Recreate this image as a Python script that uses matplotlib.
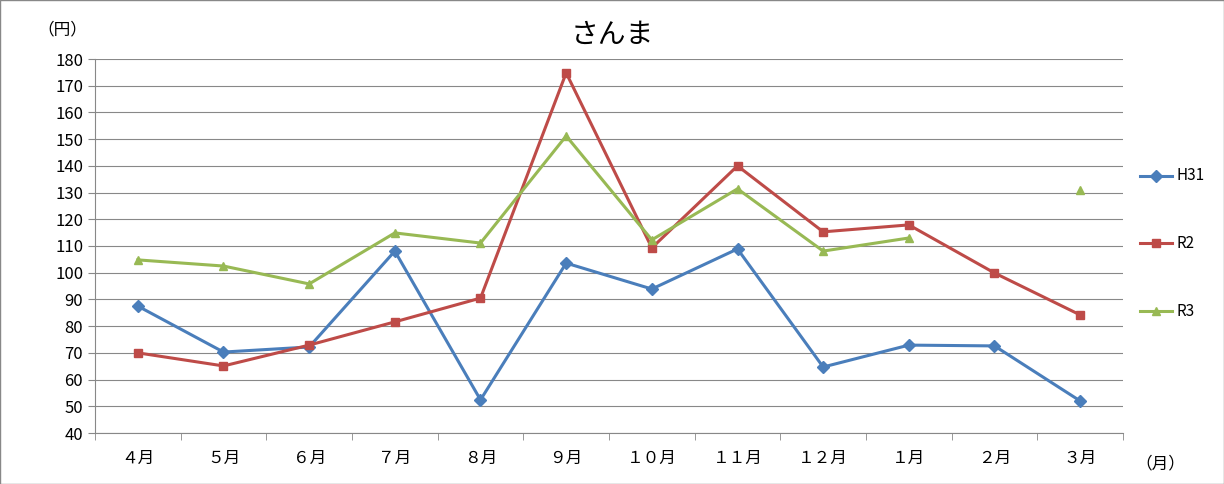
import matplotlib
matplotlib.use("Agg")
import matplotlib.pyplot as plt
import numpy as np

plt.rcParams['font.family'] = ['Noto Sans CJK JP', 'DejaVu Sans']

months = ["４月", "５月", "６月", "７月", "８月", "９月", "１０月", "１１月", "１２月", "１月", "２月", "３月"]
h31 = [87.5, 70.3, 72.2, 108.1, 52.4, 103.6, 93.9, 108.9, 64.7, 72.9, 72.6, 52.0]
r2 = [70.0, 65.1, 72.9, 81.6, 90.5, 174.8, 109.3, 140.0, 115.3, 117.9, 99.9, 84.2]
r3 = [104.8, 102.5, 95.8, 114.9, 111.1, 151.2, 112.3, 131.4, 108.1, 113.0, np.nan, 131.0]

fig = plt.figure(figsize=(12.24, 4.84), dpi=100)
fig.patches.append(plt.Rectangle((0, 0), 1, 1, transform=fig.transFigure, fill=False, edgecolor='#888888', lw=1))
ax = fig.add_axes([95/1224, 1-433/484, (1123-95)/1224, (433-59)/484])
x = np.arange(len(months))
ax.plot(x, h31, color='#4a7ebb', marker='D', ms=6, lw=2.2, label='H31')
ax.plot(x, r2, color='#be4b48', marker='s', ms=6, lw=2.2, label='R2')
ax.plot(x, r3, color='#98b954', marker='^', ms=6, lw=2.2, label='R3')

ax.set_ylim(40, 180)
ax.set_yticks(range(40, 181, 10))
ax.set_xlim(-0.5, 11.5)
ax.set_xticks(x)
ax.set_xticklabels(months, fontsize=12)
ax.set_xticks(np.arange(-0.5, 12, 1), minor=True)
ax.tick_params(axis='x', which='major', length=0, pad=12)
ax.tick_params(axis='x', which='minor', length=5, color='#888888')
ax.tick_params(axis='y', length=5, color='#888888', labelsize=12)
ax.grid(axis='y', color='#888888', lw=0.8)
ax.set_axisbelow(True)
for s in ['top', 'right']:
    ax.spines[s].set_visible(False)
for s in ['left', 'bottom']:
    ax.spines[s].set_color('#888888')

fig.text(0.5, 1-35/484, "さんま", ha='center', va='center', fontsize=20)
fig.text(62/1224, 1-30/484, "（円）", ha='center', va='center', fontsize=12)
fig.text(1160/1224, 1-464/484, "（月）", ha='center', va='center', fontsize=12)

handles, labels = ax.get_legend_handles_labels()
ys = [176, 243, 311]
for h, l, yy in zip(handles, labels, ys):
    lx = 1140/1224
    w = 32/1224
    fy = 1-yy/484
    fig.lines.append(plt.Line2D([lx, lx+w/2, lx+w], [fy, fy, fy], color=h.get_color(), lw=2.2,
                                marker=h.get_marker(), markevery=[1], ms=6, transform=fig.transFigure))
    fig.text(lx+w+4/1224, fy, l, va='center', fontsize=11)
fig.savefig("out.png", dpi=100)
